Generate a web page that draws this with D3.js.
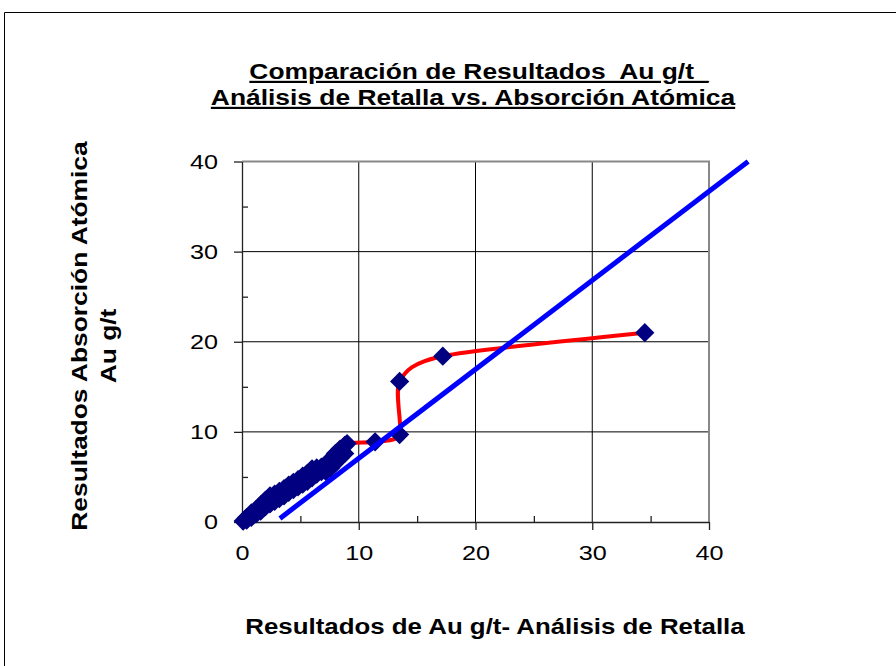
<!DOCTYPE html>
<html>
<head>
<meta charset="utf-8">
<script src="https://cdn.jsdelivr.net/npm/d3@7"></script>
<style>
  body { margin: 0; background: #fff; }
  svg { display: block; font-family: "Liberation Sans", Arial, sans-serif; }
  .tit { font-size: 22px; font-weight: bold; text-decoration: underline; white-space: pre; }
  .lab { font-size: 22px; font-weight: bold; }
  .axis text { font-size: 21px; fill: #000; font-family: "Liberation Sans", Arial, sans-serif; }
  .axis path, .axis line { stroke: #222; stroke-width: 1.3; }
</style>
</head>
<body>
<svg id="chart" width="896" height="666"></svg>
<script>
// Datos (g/t Au)
let retalla = [0.1, 0.4, 0.4, 0.8, 0.8, 1.2, 1.2, 1.6, 1.6, 2.0, 2.0, 2.4, 2.4, 2.8, 2.8, 3.2, 3.2, 3.6, 3.6,
	4.0, 4.0, 4.4, 4.4, 4.8, 4.8, 5.2, 5.2, 5.6, 5.6, 6.0, 6.0, 6.4, 6.4, 6.8, 6.8, 7.2, 7.2, 7.6, 7.6,
	8.0, 8.0, 8.4, 8.4, 8.8, 8.8, 9.0, 11.4, 13.5, 13.5, 17.2, 34.5]
let absorcion = [0.1, 0.5, 0.2, 1.0, 0.5, 1.4, 0.9, 1.9, 1.2, 2.4, 1.7, 2.9, 2.0, 3.1, 2.3, 3.4, 2.6, 3.7, 2.9,
	4.1, 3.3, 4.4, 3.6, 4.7, 3.9, 5.1, 4.2, 5.4, 4.5, 5.9, 4.9, 6.0, 5.3, 6.1, 5.6, 6.4, 5.6, 7.0, 6.0,
	7.6, 6.6, 8.1, 7.1, 8.5, 7.6, 8.7, 8.9, 9.7, 15.6, 18.4, 21.0]

// linea azul (tendencia)
let lineaX = [3.25, 43.35]
let lineaY = [0.4, 40.0]

let majorTicks = [0, 10, 20, 30, 40]
let minorTicks = [5, 15, 25, 35]

let puntos = retalla.map((d, i) => ({x: d, y: absorcion[i]}))
let linea = lineaX.map((d, i) => ({x: d, y: lineaY[i]}))

let stretch = 1.2   // el texto del original sale ensanchado

let svg = d3.select('#chart')

// marco exterior
svg.append('path')
	.attr('d', 'M4.5,700 L4.5,12.5 L900,12.5')
	.attr('fill', 'none')
	.attr('stroke', '#000')
	.attr('stroke-width', 1)

let xScale = d3.scaleLinear().domain([0, 40]).range([242, 709])
let yScale = d3.scaleLinear().domain([0, 40]).range([522, 161.5])

// grid
let grid = svg.append('g')
grid.selectAll('.gx').data([10, 20, 30]).enter().append('line')
	.attr('x1', d => xScale(d)).attr('x2', d => xScale(d))
	.attr('y1', yScale(0)).attr('y2', yScale(40))
	.attr('stroke', '#000').attr('stroke-width', 1)
grid.selectAll('.gy').data([10, 20, 30]).enter().append('line')
	.attr('y1', d => yScale(d)).attr('y2', d => yScale(d))
	.attr('x1', xScale(0)).attr('x2', xScale(40))
	.attr('stroke', '#000').attr('stroke-width', 1)

// borde del area de trazado (arriba y derecha)
svg.append('path')
	.attr('d', `M${xScale(0)},${yScale(40)} L${xScale(40)},${yScale(40)} L${xScale(40)},${yScale(0)}`)
	.attr('fill', 'none')
	.attr('stroke', '#888')
	.attr('stroke-width', 2)

// ejes
let axisX = d3.axisBottom(xScale).tickValues(majorTicks).tickSize(8).tickSizeOuter(0).tickPadding(15)
let gx = svg.append('g').attr('class', 'axis')
	.attr('transform', `translate(0, ${yScale(0)})`)
	.call(axisX)
gx.selectAll('text')
	.attr('transform', `translate(0, 23) scale(${stretch}, 1)`)
	.attr('y', 0).attr('dy', '0.71em')

svg.append('g').attr('class', 'axis')
	.attr('transform', `translate(0, ${yScale(0)})`)
	.call(d3.axisBottom(xScale).tickValues(minorTicks).tickSize(-6).tickSizeOuter(0).tickFormat(''))
	.select('.domain').remove()

let axisY = d3.axisLeft(yScale).tickValues(majorTicks).tickSize(8).tickSizeOuter(0).tickPadding(16)
let gy = svg.append('g').attr('class', 'axis')
	.attr('transform', `translate(${xScale(0)}, 0)`)
	.call(axisY)
gy.selectAll('text')
	.attr('transform', `translate(-24, 0) scale(${stretch}, 1)`)
	.attr('x', 0)

svg.append('g').attr('class', 'axis')
	.attr('transform', `translate(${xScale(0)}, 0)`)
	.call(d3.axisLeft(yScale).tickValues(minorTicks).tickSize(-6).tickSizeOuter(0).tickFormat(''))
	.select('.domain').remove()

// linea roja suavizada
let lineGen = d3.line()
	.x(d => xScale(d.x))
	.y(d => yScale(d.y))
	.curve(d3.curveCardinal.tension(0.25))

svg.append('path')
	.datum(puntos)
	.attr('d', lineGen)
	.attr('fill', 'none')
	.attr('stroke', '#ff0000')
	.attr('stroke-width', 4)

// marcadores rombo
let diamond = d3.symbol().type(d3.symbolSquare).size(185)
svg.selectAll('.pt').data(puntos).enter().append('path')
	.attr('d', diamond)
	.attr('transform', d => `translate(${xScale(d.x)}, ${yScale(d.y)}) rotate(45)`)
	.attr('fill', '#000080')

// linea azul
svg.append('path')
	.datum(linea)
	.attr('d', d3.line().x(d => xScale(d.x)).y(d => yScale(d.y)))
	.attr('stroke', '#0000ff')
	.attr('stroke-width', 5)
	.attr('fill', 'none')

// titulos
function addText(cls, x, y, rot, txt, s) {
	svg.append('text').attr('class', cls)
		.attr('transform', `translate(${x}, ${y}) rotate(${rot}) scale(${s || stretch}, 1)`)
		.attr('text-anchor', 'middle')
		.text(txt)
}

addText('tit', 479, 79, 0, 'Comparación de Resultados  Au g/t_')
addText('tit', 473, 105, 0, 'Análisis de Retalla vs. Absorción Atómica')
addText('lab', 495, 634, 0, 'Resultados de Au g/t- Análisis de Retalla', 1.175)
addText('lab', 87, 336, -90, 'Resultados Absorción Atómica')
addText('lab', 116, 346, -90, 'Au g/t')
</script>
</body>
</html>
